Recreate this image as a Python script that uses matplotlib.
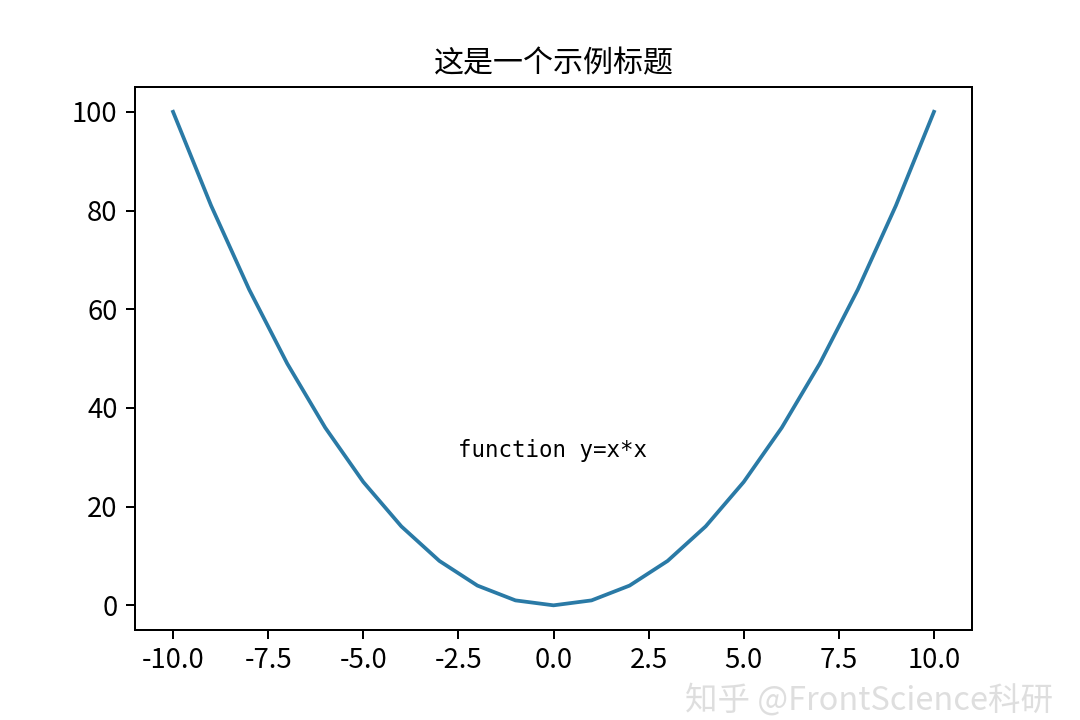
import numpy as np
import matplotlib
matplotlib.use('Agg')
import matplotlib.pyplot as plt

plt.rcParams['font.family'] = ['Noto Sans CJK SC', 'DejaVu Sans']
plt.rcParams['axes.unicode_minus'] = False

# data
x = [-10, -9, -8, -7, -6, -5, -4, -3, -2, -1, 0, 1, 2, 3, 4, 5, 6, 7, 8, 9, 10]
y = [100, 81, 64, 49, 36, 25, 16, 9, 4, 1, 0, 1, 4, 9, 16, 25, 36, 49, 64, 81, 100]

title = '这是一个示例标题'
note = 'function y=x*x'
watermark = '知乎 @FrontScience科研'

fig = plt.figure(figsize=(6, 4), dpi=180)
fig.subplots_adjust(left=0.125, right=0.9, bottom=0.125, top=0.879)
ax = fig.add_subplot(111)
ax.plot(x, y, color='#2a7aa6', linewidth=1.5)
ax.set_title(title, fontsize=12)
ax.text(-2.5, 30, note, fontsize=9, family=['DejaVu Sans Mono'])
ax.tick_params(labelsize=11)

# watermark in the corner
fig.text(0.975, 0.028, watermark, ha='right', va='center', fontsize=13,
         color='#dddddd', alpha=0.95)

fig.savefig('out.png', dpi=180)
